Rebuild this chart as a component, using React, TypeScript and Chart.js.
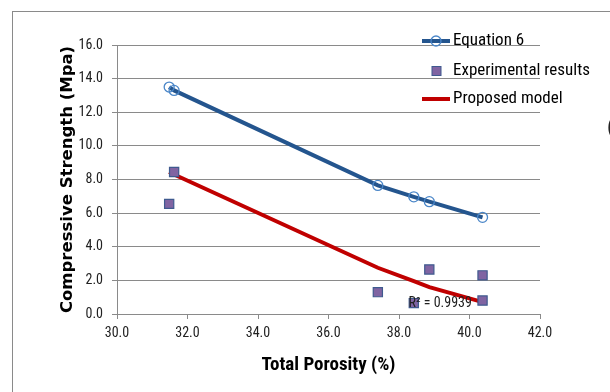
import React, { useEffect, useRef } from 'react';
import { Chart, registerables } from 'chart.js';

Chart.register(...registerables);

// ---- data ----
const seriesNames = ['Equation 6', 'Experimental results', 'Proposed model'];
const eqX = [31.48, 31.62, 37.4, 38.42, 38.86, 40.37];
const eqY = [13.5, 13.3, 7.65, 6.97, 6.68, 5.75];
const expX = [31.48, 31.62, 37.4, 38.42, 38.86, 40.37, 40.37];
const expY = [6.55, 8.45, 1.3, 0.65, 2.65, 2.3, 0.8];
const modelX = [31.48, 31.62, 37.4, 38.42, 38.86, 40.3];
const modelY = [8.45, 8.3, 2.75, 1.95, 1.6, 0.75];
const xRange = [30, 42];
const yRange = [0, 16];
const tickStep = 2;
const xTitle = 'Total Porosity (%)';
const yTitle = 'Compressive Strength (Mpa)';
const r2Label = 'R² = 0.9939';
const r2At = [38.27, 0.6];

const NARROW = "'Liberation Sans Narrow', 'Arial Narrow', 'Roboto Condensed', sans-serif";

const BLUE_LINE = '#24558e';
const BLUE_RING = '#4a86c8';
const RED = '#c00000';
const PURPLE = '#8064a2';
const PURPLE_EDGE = '#3f5a8f';
const GRID = '#8a8a8a';

const toPts = (xs: number[], ys: number[]) => xs.map((x, i) => ({ x, y: ys[i] }));

const overlayPlugin = {
  id: 'overlay',
  afterDraw(chart: any) {
    const { ctx, scales } = chart;
    ctx.save();
    // R² annotation
    ctx.font = `14px ${NARROW}`;
    ctx.fillStyle = '#222';
    ctx.textBaseline = 'middle';
    ctx.textAlign = 'left';
    ctx.fillText(r2Label, scales.x.getPixelForValue(r2At[0]), scales.y.getPixelForValue(r2At[1]));

    // legend
    const lx0 = 422, lx1 = 450, tx = 453;
    const rows = [41, 71, 99];
    ctx.font = `17px ${NARROW}`;
    // Equation 6
    ctx.strokeStyle = BLUE_LINE;
    ctx.lineWidth = 4;
    ctx.beginPath();
    ctx.moveTo(lx0, rows[0]);
    ctx.lineTo(lx1, rows[0]);
    ctx.stroke();
    ctx.strokeStyle = BLUE_RING;
    ctx.lineWidth = 1.3;
    ctx.beginPath();
    ctx.arc(436, rows[0], 5, 0, Math.PI * 2);
    ctx.stroke();
    ctx.fillStyle = '#000';
    ctx.fillText(seriesNames[0], tx, rows[0]);
    // Experimental
    ctx.fillStyle = PURPLE;
    ctx.fillRect(432, rows[1] - 4.5, 9, 9);
    ctx.strokeStyle = PURPLE_EDGE;
    ctx.lineWidth = 1;
    ctx.strokeRect(432, rows[1] - 4.5, 9, 9);
    ctx.fillStyle = '#000';
    ctx.fillText(seriesNames[1], tx, rows[1]);
    // Proposed model
    ctx.strokeStyle = RED;
    ctx.lineWidth = 4;
    ctx.beginPath();
    ctx.moveTo(lx0, rows[2]);
    ctx.lineTo(lx1, rows[2]);
    ctx.stroke();
    ctx.fillText(seriesNames[2], tx, rows[2]);
    ctx.restore();
  },
};

export default function App() {
  const ref = useRef<HTMLCanvasElement | null>(null);

  useEffect(() => {
    if (!ref.current) return;
    const chart = new Chart(ref.current, {
      type: 'scatter',
      data: {
        datasets: [
          {
            label: seriesNames[1],
            data: toPts(expX, expY),
            pointStyle: 'rect',
            pointRadius: 6.5,
            backgroundColor: PURPLE,
            borderColor: PURPLE_EDGE,
            borderWidth: 1.2,
            showLine: false,
            order: 0,
          },
          {
            label: seriesNames[0],
            data: toPts(eqX, eqY),
            showLine: true,
            borderColor: BLUE_LINE,
            borderWidth: 4,
            pointStyle: 'circle',
            pointRadius: 5,
            pointBorderColor: BLUE_RING,
            pointBackgroundColor: 'rgba(255,255,255,0)',
            pointBorderWidth: 1.3,
            order: 1,
          },
          {
            label: seriesNames[2],
            data: toPts(modelX, modelY),
            showLine: true,
            borderColor: RED,
            borderWidth: 4,
            pointRadius: 0,
            order: 2,
          },
        ],
      },
      options: {
        responsive: false,
        animation: false,
        devicePixelRatio: 1,
        layout: { padding: { left: 54, right: 70, top: 45, bottom: 0 } },
        plugins: {
          legend: { display: false },
          tooltip: { enabled: false },
        },
        scales: {
          x: {
            type: 'linear',
            min: xRange[0],
            max: xRange[1],
            afterFit: (s: any) => { s.height = 78; },
            ticks: {
              stepSize: tickStep,
              padding: 6,
              color: '#222',
              font: { family: NARROW, size: 14 },
              callback: (v: any) => Number(v).toFixed(1),
            },
            grid: { drawOnChartArea: false, drawTicks: true, tickLength: 5, color: GRID, lineWidth: 1 },
            border: { display: true, color: GRID, width: 1 },
            title: {
              display: true,
              text: xTitle,
              color: '#000',
              font: { family: NARROW, size: 19, weight: 'bold' },
              padding: { top: 0, bottom: 15 },
            },
          },
          y: {
            type: 'linear',
            min: yRange[0],
            max: yRange[1],
            afterFit: (s: any) => { s.width = 63; },
            ticks: {
              stepSize: tickStep,
              padding: 9,
              color: '#222',
              font: { family: NARROW, size: 14 },
              callback: (v: any) => Number(v).toFixed(1),
            },
            grid: { drawOnChartArea: true, drawTicks: true, tickLength: 5, color: GRID, lineWidth: 1 },
            border: { display: true, color: GRID, width: 1 },
            title: {
              display: true,
              text: yTitle,
              color: '#000',
              font: { family: "'DejaVu Sans', sans-serif", size: 16.5, weight: 'bold' },
              padding: { top: 4, bottom: 0 },
            },
          },
        },
      },
      plugins: [overlayPlugin],
    } as any);
    return () => chart.destroy();
  }, []);

  return (
    <div
      style={{
        position: 'fixed',
        left: 0,
        top: 0,
        width: 610,
        height: 392,
        background: '#fff',
        overflow: 'hidden',
      }}
    >
      <div
        style={{
          position: 'absolute',
          left: 12,
          top: 11,
          width: 620,
          height: 400,
          borderLeft: '1px solid #8a8a8a',
          borderTop: '1px solid #8a8a8a',
        }}
      />
      <canvas ref={ref} width={610} height={392} style={{ position: 'absolute', left: 0, top: 0 }} />
      <span
        style={{
          position: 'absolute',
          left: 607,
          top: 114,
          fontFamily: NARROW,
          fontSize: 22,
          color: '#222',
        }}
      >
        (
      </span>
    </div>
  );
}
